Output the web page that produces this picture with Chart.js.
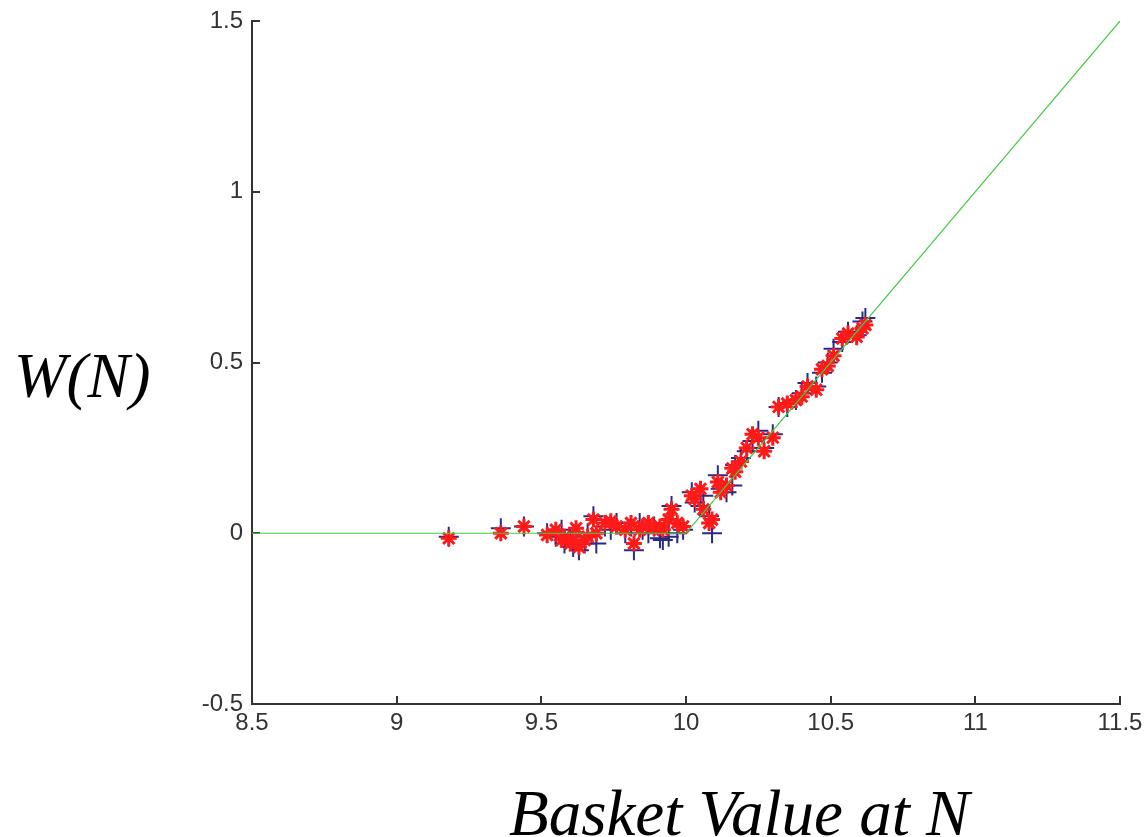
<!DOCTYPE html>
<html>
<head>
<meta charset="utf-8">
<script src="https://cdn.jsdelivr.net/npm/chart.js@4/dist/chart.umd.min.js"></script>
<style>
  html, body { margin: 0; padding: 0; background: #fff; }
  #wrap { position: relative; width: 1148px; height: 837px; }
  canvas { position: absolute; left: 0; top: 0; }
  .axis-title {
    position: absolute;
    font-family: "Liberation Serif", "Times New Roman", serif;
    font-style: italic;
    color: #000;
    white-space: nowrap;
    line-height: 1;
  }
  #ytitle { left: 14px; top: 345px; font-size: 63px; }
  #xtitle { left: 509px; top: 781px; font-size: 65px; }
</style>
</head>
<body>
<div id="wrap">
  <canvas id="payoff" width="1148" height="837"></canvas>
  <div class="axis-title" id="ytitle">W(N)</div>
  <div class="axis-title" id="xtitle">Basket Value at N</div>
</div>
<script>
// basket value at step N and the two estimates of W(N)
const basketX = [
  9.18, 9.36, 9.44, 9.52, 9.55, 9.57, 9.58, 9.60, 9.61, 9.62,
  9.63, 9.65, 9.66, 9.68, 9.69, 9.72, 9.74, 9.76, 9.79, 9.81,
  9.82, 9.84, 9.85, 9.87, 9.89, 9.91, 9.92, 9.94, 9.95, 9.97,
  9.99, 10.02, 10.03, 10.05, 10.06, 10.08, 10.09, 10.11, 10.12, 10.14,
  10.16, 10.17, 10.19, 10.21, 10.23, 10.25, 10.27, 10.30, 10.32, 10.35,
  10.38, 10.40, 10.42, 10.45, 10.47, 10.49, 10.51, 10.54, 10.56, 10.59,
  10.61, 10.62
];
const plusW = [
  -0.01, 0.015, 0.02, 0.0, -0.01, 0.01, -0.03, -0.02, -0.04, -0.01,
  -0.05, -0.03, 0.0, 0.05, -0.03, 0.02, 0.01, 0.03, 0.0, 0.02,
  -0.05, 0.03, 0.01, 0.0, 0.02, -0.015, -0.02, -0.01, 0.08, 0.0,
  0.01, 0.12, 0.09, 0.08, 0.11, 0.05, 0.0, 0.17, 0.13, 0.12,
  0.14, 0.20, 0.22, 0.24, 0.27, 0.30, 0.25, 0.29, 0.37, 0.37,
  0.39, 0.41, 0.44, 0.43, 0.47, 0.50, 0.54, 0.56, 0.59, 0.58,
  0.62, 0.63
];
const starW = [
  -0.015, 0.0, 0.02, -0.005, 0.01, -0.02, -0.01, -0.03, -0.02, 0.015,
  -0.04, -0.02, -0.01, 0.04, 0.0, 0.03, 0.035, 0.02, 0.01, 0.03,
  -0.03, 0.01, 0.02, 0.03, 0.015, 0.02, 0.01, 0.04, 0.07, 0.03,
  0.02, 0.11, 0.10, 0.13, 0.07, 0.03, 0.04, 0.15, 0.12, 0.14,
  0.19, 0.18, 0.21, 0.25, 0.29, 0.28, 0.24, 0.28, 0.37, 0.38,
  0.39, 0.40, 0.43, 0.42, 0.48, 0.49, 0.52, 0.57, 0.585, 0.575,
  0.60, 0.61
];
// payoff max(S - K, 0) with K = 10
const payoffX = [8.5, 10, 11.5];
const payoffW = [0, 0, 1.5];

const xTicks = [8.5, 9, 9.5, 10, 10.5, 11, 11.5];
const yTicks = [-0.5, 0, 0.5, 1, 1.5];

const pts = (xs, ys) => xs.map((x, i) => ({x: x, y: ys[i]}));
const fmt = v => String(Number(v.toFixed(2)));

const axisColor = '#333';
const tickFont = {family: "'Liberation Sans', Arial, sans-serif", size: 24};

new Chart(document.getElementById('payoff'), {
  type: 'scatter',
  data: {
    datasets: [
      {
        data: pts(payoffX, payoffW),
        showLine: true,
        borderColor: '#44cc44',
        borderWidth: 1.2,
        pointRadius: 0,
        order: 1
      },
      {
        data: pts(basketX, starW),
        pointStyle: 'star',
        pointRadius: 8,
        borderColor: '#ff1a1a',
        backgroundColor: '#ff1a1a',
        pointBorderWidth: 3,
        order: 2
      },
      {
        data: pts(basketX, plusW),
        pointStyle: 'cross',
        pointRadius: 10,
        borderColor: '#2a2a88',
        pointBorderWidth: 2,
        order: 3
      }
    ]
  },
  options: {
    responsive: false,
    animation: false,
    events: [],
    layout: {padding: {left: 0, top: 21, right: 28, bottom: 0}},
    plugins: {legend: {display: false}, tooltip: {enabled: false}},
    scales: {
      x: {
        type: 'linear',
        min: 8.5,
        max: 11.5,
        afterBuildTicks: s => { s.ticks = xTicks.map(v => ({value: v})); },
        afterFit: s => { s.height = 133; s.paddingLeft = 0; s.paddingRight = 0; },
        border: {color: axisColor, width: 2},
        grid: {drawOnChartArea: false, drawTicks: true, tickLength: -8, color: axisColor, lineWidth: 2},
        ticks: {color: axisColor, font: tickFont, padding: 13, maxRotation: 0, callback: fmt}
      },
      y: {
        type: 'linear',
        min: -0.5,
        max: 1.5,
        afterBuildTicks: s => { s.ticks = yTicks.map(v => ({value: v})); },
        afterFit: s => { s.width = 252; s.paddingTop = 0; s.paddingBottom = 0; },
        border: {color: axisColor, width: 2},
        grid: {drawOnChartArea: false, drawTicks: true, tickLength: -8, color: axisColor, lineWidth: 2},
        ticks: {color: axisColor, font: tickFont, padding: 17, callback: fmt}
      }
    }
  }
});
</script>
</body>
</html>
